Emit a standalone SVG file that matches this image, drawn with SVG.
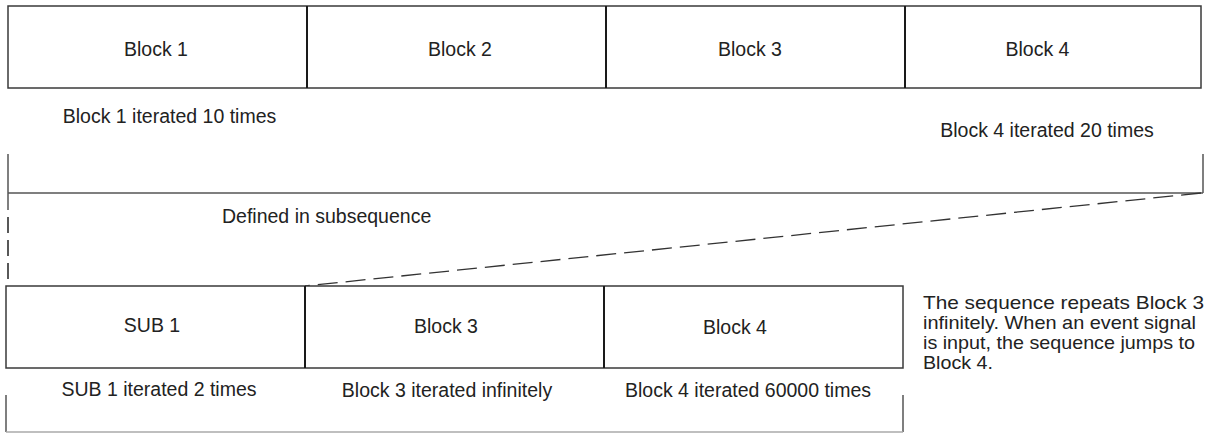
<svg xmlns="http://www.w3.org/2000/svg" width="1210" height="433" viewBox="0 0 1210 433">
<style>
.box{fill:#fff;stroke:#3a3a3a;stroke-width:1.5}
.div{stroke:#1a1a1a;stroke-width:2;fill:none}
.ln{stroke:#555;stroke-width:1.5;fill:none}
.dash{stroke:#333;stroke-width:1.3;fill:none;stroke-dasharray:20 8}
.vdash{stroke:#222;stroke-width:1.5;fill:none;stroke-dasharray:16 7}
text{font-family:"Liberation Sans",Arial,sans-serif;font-size:19.5px;fill:#222}
.c{text-anchor:middle}
.note{font-size:17.8px}
</style>
<rect width="1210" height="433" fill="#fff"/>
<g id="connectors">
<path class="ln" d="M8,154 V210 M8,193 H1203 M1203,154 V193"/>
<path class="vdash" d="M8,217 V286"/>
<path class="dash" d="M1201,193 L305,286"/>
<path class="ln" d="M6,395 V432 M903,395 V432"/>
<path d="M6,432 H903" stroke="#aaa" stroke-width="1.5"/>
</g>
<g id="top-sequence">
<rect class="box" x="8" y="6" width="1193" height="82"/>
<path class="div" d="M307,6 V88 M606,6 V88 M905,6 V88"/>
</g>
<g id="block1"><text class="c" x="156" y="55.5">Block 1</text></g>
<g id="block2"><text class="c" x="460" y="55.5">Block 2</text></g>
<g id="block3"><text class="c" x="750" y="55.5">Block 3</text></g>
<g id="block4"><text class="c" x="1037.5" y="55.5">Block 4</text></g>
<g id="label-block1"><text class="c" x="169.5" y="122.5">Block 1 iterated 10 times</text></g>
<g id="label-block4"><text class="c" x="1047" y="136.5">Block 4 iterated 20 times</text></g>
<g id="label-subsequence"><text x="222" y="223">Defined in subsequence</text></g>
<g id="bottom-sequence">
<rect class="box" x="6" y="286" width="897" height="82"/>
<path class="div" d="M305,286 V368 M604,286 V368"/>
</g>
<g id="sub1"><text class="c" x="152" y="332">SUB 1</text></g>
<g id="sub-block3"><text class="c" x="446" y="333">Block 3</text></g>
<g id="sub-block4"><text class="c" x="735" y="334">Block 4</text></g>
<g id="label-sub1"><text class="c" x="159" y="395.5">SUB 1 iterated 2 times</text></g>
<g id="label-sub-block3"><text class="c" x="447" y="396.5">Block 3 iterated infinitely</text></g>
<g id="label-sub-block4"><text class="c" x="748" y="397">Block 4 iterated 60000 times</text></g>
<g id="note">
<text class="note" x="923" y="308.8" textLength="281" lengthAdjust="spacingAndGlyphs">The sequence repeats Block 3</text>
<text class="note" x="923" y="328.7" textLength="273" lengthAdjust="spacingAndGlyphs">infinitely. When an event signal</text>
<text class="note" x="923" y="348.6" textLength="272" lengthAdjust="spacingAndGlyphs">is input, the sequence jumps to</text>
<text class="note" x="923" y="368.5" textLength="70" lengthAdjust="spacingAndGlyphs">Block 4.</text>
</g>
</svg>
